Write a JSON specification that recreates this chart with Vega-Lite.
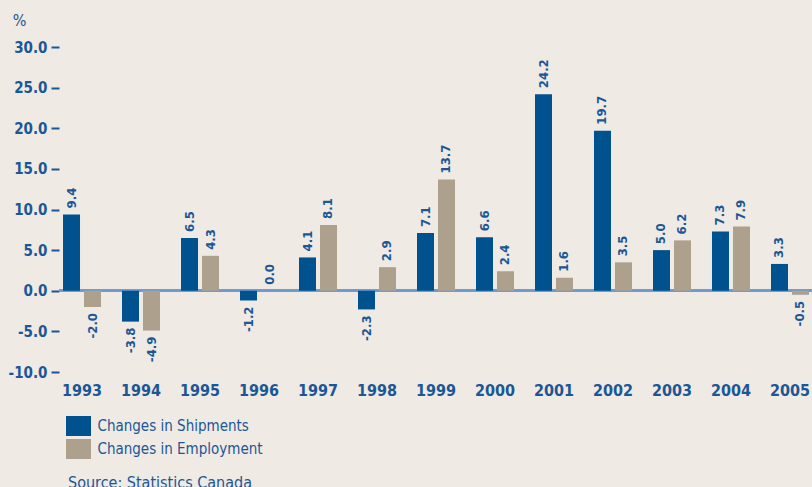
{
  "$schema": "https://vega.github.io/schema/vega-lite/v6.json",
  "width": 754,
  "height": 325,
  "autosize": {"type": "none"},
  "padding": {"left": 59, "top": 47, "right": 0, "bottom": 115},
  "background": "#EFEAE4",
  "title": {
    "text": "Source: Statistics Canada",
    "orient": "bottom",
    "anchor": "start",
    "frame": "group",
    "offset": 16,
    "dx": 9,
    "font": "DejaVu Sans Condensed",
    "fontSize": 16,
    "fontWeight": "normal",
    "color": "#1B5796"
  },
  "config": {
    "view": {"stroke": null},
    "locale": {"number": {"decimal": ".", "thousands": ",", "grouping": [3], "currency": ["$", ""], "minus": "-"}}
  },
  "data": {
    "values": [
      {"year": "1993", "series": "Changes in Shipments", "value": 9.4},
      {"year": "1993", "series": "Changes in Employment", "value": -2.0},
      {"year": "1994", "series": "Changes in Shipments", "value": -3.8},
      {"year": "1994", "series": "Changes in Employment", "value": -4.9},
      {"year": "1995", "series": "Changes in Shipments", "value": 6.5},
      {"year": "1995", "series": "Changes in Employment", "value": 4.3},
      {"year": "1996", "series": "Changes in Shipments", "value": -1.2},
      {"year": "1996", "series": "Changes in Employment", "value": 0.0},
      {"year": "1997", "series": "Changes in Shipments", "value": 4.1},
      {"year": "1997", "series": "Changes in Employment", "value": 8.1},
      {"year": "1998", "series": "Changes in Shipments", "value": -2.3},
      {"year": "1998", "series": "Changes in Employment", "value": 2.9},
      {"year": "1999", "series": "Changes in Shipments", "value": 7.1},
      {"year": "1999", "series": "Changes in Employment", "value": 13.7},
      {"year": "2000", "series": "Changes in Shipments", "value": 6.6},
      {"year": "2000", "series": "Changes in Employment", "value": 2.4},
      {"year": "2001", "series": "Changes in Shipments", "value": 24.2},
      {"year": "2001", "series": "Changes in Employment", "value": 1.6},
      {"year": "2002", "series": "Changes in Shipments", "value": 19.7},
      {"year": "2002", "series": "Changes in Employment", "value": 3.5},
      {"year": "2003", "series": "Changes in Shipments", "value": 5.0},
      {"year": "2003", "series": "Changes in Employment", "value": 6.2},
      {"year": "2004", "series": "Changes in Shipments", "value": 7.3},
      {"year": "2004", "series": "Changes in Employment", "value": 7.9},
      {"year": "2005", "series": "Changes in Shipments", "value": 3.3},
      {"year": "2005", "series": "Changes in Employment", "value": -0.5}
    ]
  },
  "encoding": {
    "x": {
      "field": "year",
      "type": "nominal",
      "scale": {"paddingInner": 0.356, "paddingOuter": 0.068},
      "axis": {
        "title": null,
        "labelAngle": 0,
        "ticks": false,
        "domain": false,
        "labelPadding": 10,
        "labelFont": "DejaVu Sans Condensed",
        "labelFontSize": 16,
        "labelFontWeight": "bold",
        "labelColor": "#1B5796"
      }
    },
    "xOffset": {
      "field": "series",
      "type": "nominal",
      "sort": ["Changes in Shipments", "Changes in Employment"],
      "scale": {"paddingInner": 0.19, "paddingOuter": 0}
    },
    "y": {
      "field": "value",
      "type": "quantitative",
      "scale": {"domain": [-10, 30], "nice": false, "zero": false},
      "axis": {
        "title": "%",
        "titleAngle": 0,
        "titleX": -40,
        "titleY": -27,
        "titleAlign": "center",
        "titleBaseline": "middle",
        "titleFont": "DejaVu Sans Condensed",
        "titleFontSize": 16,
        "titleFontWeight": "normal",
        "titleColor": "#1B5796",
        "values": [-10, -5, 0, 5, 10, 15, 20, 25, 30],
        "format": ".1f",
        "grid": false,
        "domain": false,
        "tickSize": 8,
        "tickWidth": 2,
        "tickColor": "#1B5796",
        "labelPadding": 4,
        "labelFont": "DejaVu Sans Condensed",
        "labelFontSize": 15,
        "labelFontWeight": "bold",
        "labelColor": "#1B5796"
      }
    }
  },
  "layer": [
    {
      "mark": {"type": "rule", "color": "#6F9BD1", "strokeWidth": 2},
      "encoding": {"x": null, "xOffset": null, "y": {"datum": 0, "type": "quantitative"}}
    },
    {
      "mark": {"type": "bar"},
      "encoding": {
        "color": {
          "field": "series",
          "type": "nominal",
          "scale": {"domain": ["Changes in Shipments", "Changes in Employment"], "range": ["#00528F", "#ADA08D"]},
          "legend": {
            "title": null,
            "orient": "none",
            "legendX": 9.5,
            "legendY": 369,
            "symbolType": "M-1.25,-1L1.25,-1L1.25,1L-1.25,1Z",
            "symbolSize": 400,
            "symbolStrokeWidth": 0,
            "symbolOpacity": 1,
            "rowPadding": 3,
            "labelOffset": 9,
            "labelLimit": 400,
            "labelFont": "DejaVu Sans Condensed",
            "labelFontSize": 15,
            "labelFontWeight": "normal",
            "labelColor": "#1B5796"
          }
        }
      }
    },
    {
      "transform": [{"filter": "datum.value >= 0"}],
      "mark": {"type": "text", "angle": 270, "align": "left", "baseline": "middle", "dx": 6, "dy": 0, "font": "DejaVu Sans Condensed", "fontSize": 13, "fontWeight": "bold", "color": "#1B5796"},
      "encoding": {"text": {"field": "value", "type": "quantitative", "format": ".1f"}}
    },
    {
      "transform": [{"filter": "datum.value < 0"}],
      "mark": {"type": "text", "angle": 270, "align": "right", "baseline": "middle", "dx": -6, "dy": 0, "font": "DejaVu Sans Condensed", "fontSize": 13, "fontWeight": "bold", "color": "#1B5796"},
      "encoding": {"text": {"field": "value", "type": "quantitative", "format": ".1f"}}
    }
  ]
}
